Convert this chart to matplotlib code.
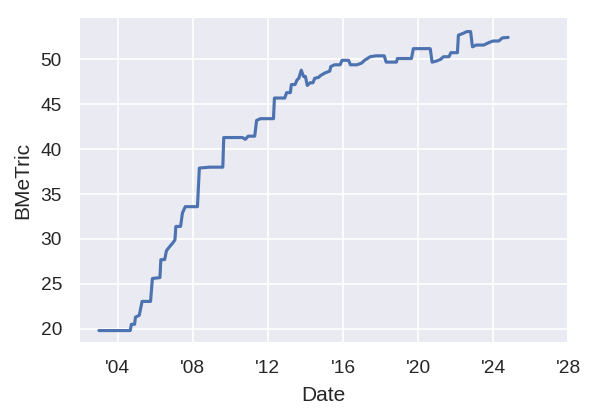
import matplotlib
matplotlib.use("Agg")
import matplotlib.pyplot as plt
import seaborn as sns
import numpy as np

years = [2003.0, 2004.67, 2004.73, 2004.9, 2004.95, 2005.15, 2005.3, 2005.75, 2005.85, 2006.25,
         2006.3, 2006.5, 2006.6, 2006.75, 2006.95, 2007.05, 2007.1, 2007.35, 2007.45, 2007.6,
         2008.25, 2008.35, 2008.9, 2009.6, 2009.65, 2010.65, 2010.8, 2010.95, 2011.3, 2011.4,
         2011.6, 2012.3, 2012.35, 2012.9, 2013.0, 2013.2, 2013.25, 2013.45, 2013.55, 2013.65,
         2013.78, 2013.9, 2014.0, 2014.1, 2014.25, 2014.4, 2014.5, 2014.7, 2014.8, 2015.05,
         2015.3, 2015.35, 2015.55, 2015.85, 2015.95, 2016.3, 2016.4, 2016.75, 2017.0, 2017.15,
         2017.45, 2017.75, 2018.2, 2018.3, 2018.85, 2018.9, 2019.65, 2019.75, 2020.65, 2020.75,
         2020.95, 2021.2, 2021.35, 2021.65, 2021.75, 2022.1, 2022.15, 2022.4, 2022.6, 2022.8,
         2022.9, 2023.1, 2023.5, 2023.8, 2024.0, 2024.3, 2024.5, 2024.8]
bmetric = [19.8, 19.8, 20.5, 20.5, 21.3, 21.5, 23.05, 23.05, 25.6, 25.7,
           27.7, 27.7, 28.7, 29.1, 29.6, 29.9, 31.4, 31.4, 32.9, 33.6,
           33.6, 37.9, 38.0, 38.0, 41.3, 41.3, 41.1, 41.45, 41.45, 43.2,
           43.4, 43.4, 45.7, 45.7, 46.3, 46.3, 47.2, 47.2, 47.7, 47.9,
           48.8, 48.1, 48.1, 47.1, 47.4, 47.4, 47.9, 48.0, 48.2, 48.5,
           48.7, 49.2, 49.4, 49.4, 49.9, 49.9, 49.4, 49.4, 49.6, 49.9,
           50.3, 50.4, 50.4, 49.7, 49.7, 50.1, 50.1, 51.2, 51.2, 49.7,
           49.8, 50.0, 50.3, 50.3, 50.75, 50.75, 52.7, 52.9, 53.1, 53.1,
           51.4, 51.6, 51.6, 51.9, 52.05, 52.05, 52.4, 52.45]
tick_years = [2004, 2008, 2012, 2016, 2020, 2024, 2028]
tick_labels = ["'04", "'08", "'12", "'16", "'20", "'24", "'28"]

sns.set_theme(style="darkgrid", context="paper")
plt.rcParams['font.family'] = ['Liberation Sans', 'DejaVu Sans']

fig = plt.figure(figsize=(4, 2.8), dpi=150)
ax = fig.add_axes([0.132, 0.183, 0.815, 0.776])
ax.plot(years, bmetric, color="#4c72b0", linewidth=1.5)
ax.set_xticks(tick_years)
ax.set_xticklabels(tick_labels)
ax.set_xlim(2001.95, 2028.0)
ax.set_ylim(18.4, 54.7)
ax.set_yticks([20, 25, 30, 35, 40, 45, 50])
ax.tick_params(labelsize=9.2)
ax.set_xlabel("Date", fontsize=10)
ax.set_ylabel("BMeTric", fontsize=10)
fig.savefig("out.png", dpi=150)
